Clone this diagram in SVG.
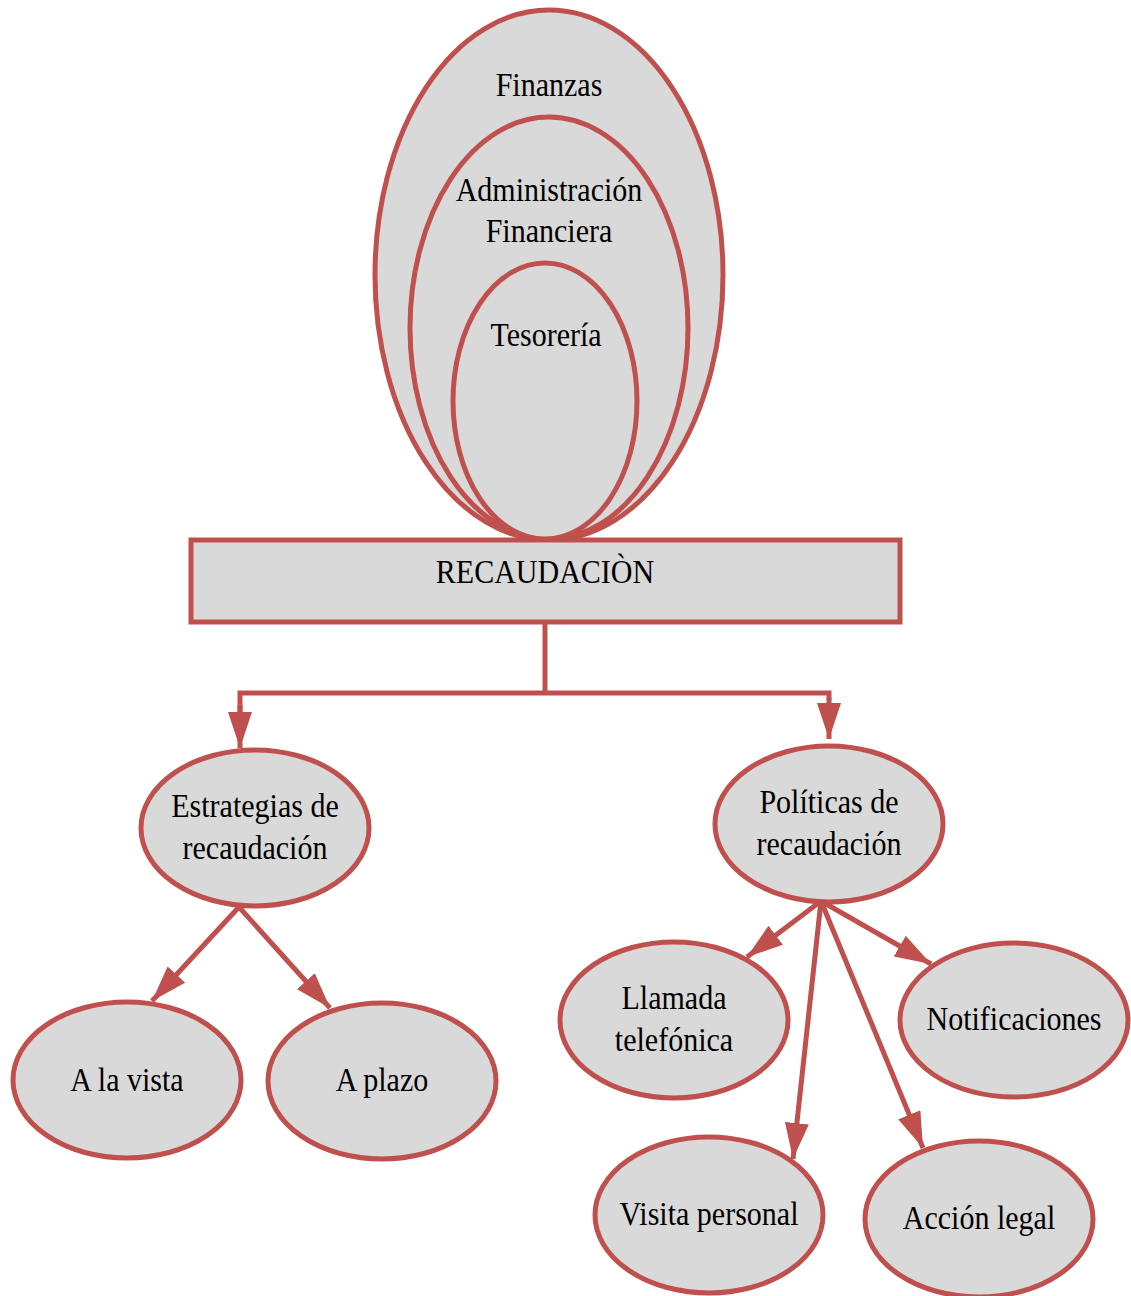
<svg xmlns="http://www.w3.org/2000/svg" width="1131" height="1296" viewBox="0 0 1131 1296">
  <style>
    .shape { fill: #D9D9D9; stroke: #C0504D; stroke-width: 5; }
    .link { fill: none; stroke: #C0504D; stroke-width: 5; }
    .lbl { font-family: "Liberation Serif", "Times New Roman", serif; font-size: 33px; fill: #000; text-anchor: middle; }
  </style>
  <defs>
    <marker id="arrow" markerUnits="userSpaceOnUse" markerWidth="38" markerHeight="26" refX="36" refY="12" orient="auto">
      <path d="M0,0 L36,12 L0,24 Z" fill="#C0504D"/>
    </marker>
  </defs>

  <!-- nested domains -->
  <g id="finanzas">
    <ellipse class="shape" cx="549" cy="275" rx="174" ry="265"/>
    <text class="lbl" transform="translate(549,96) scale(0.91,1)">Finanzas</text>
  </g>
  <g id="administracion">
    <ellipse class="shape" cx="549" cy="328" rx="139" ry="211"/>
    <text class="lbl" transform="translate(549,201) scale(0.91,1)">Administración</text>
    <text class="lbl" transform="translate(549,242) scale(0.91,1)">Financiera</text>
  </g>
  <g id="tesoreria">
    <ellipse class="shape" cx="545" cy="401" rx="92" ry="138"/>
    <text class="lbl" transform="translate(546,346) scale(0.91,1)">Tesorería</text>
  </g>

  <g id="recaudacion">
    <rect class="shape" x="191" y="540" width="709" height="82"/>
    <text class="lbl" transform="translate(545,583) scale(0.91,1)">RECAUDACIÒN</text>
  </g>

  <!-- connectors -->
  <g id="connectors">
    <polyline class="link" points="545,622 545,693"/>
    <polyline class="link" points="240,712 240,693 829,693 829,700"/>
    <line class="link" x1="240" y1="705" x2="240" y2="748" marker-end="url(#arrow)"/>
    <line class="link" x1="829" y1="698" x2="829" y2="739" marker-end="url(#arrow)"/>
    <line class="link" x1="239" y1="907" x2="152" y2="1001" marker-end="url(#arrow)"/>
    <line class="link" x1="239" y1="907" x2="330" y2="1008" marker-end="url(#arrow)"/>
    <line class="link" x1="821" y1="901" x2="747" y2="957" marker-end="url(#arrow)"/>
    <line class="link" x1="821" y1="901" x2="793" y2="1159" marker-end="url(#arrow)"/>
    <line class="link" x1="821" y1="901" x2="931" y2="964" marker-end="url(#arrow)"/>
    <line class="link" x1="821" y1="901" x2="923" y2="1148" marker-end="url(#arrow)"/>
  </g>

  <g id="estrategias">
    <ellipse class="shape" cx="255" cy="828" rx="114" ry="78"/>
    <text class="lbl" transform="translate(255,817) scale(0.91,1)">Estrategias de</text>
    <text class="lbl" transform="translate(255,859) scale(0.91,1)">recaudación</text>
  </g>
  <g id="politicas">
    <ellipse class="shape" cx="829" cy="824" rx="114" ry="78"/>
    <text class="lbl" transform="translate(829,813) scale(0.91,1)">Políticas de</text>
    <text class="lbl" transform="translate(829,855) scale(0.91,1)">recaudación</text>
  </g>
  <g id="a-la-vista">
    <ellipse class="shape" cx="127" cy="1080" rx="114" ry="78"/>
    <text class="lbl" transform="translate(127,1091) scale(0.91,1)">A la vista</text>
  </g>
  <g id="a-plazo">
    <ellipse class="shape" cx="382" cy="1081" rx="114" ry="78"/>
    <text class="lbl" transform="translate(382,1091) scale(0.91,1)">A plazo</text>
  </g>
  <g id="llamada">
    <ellipse class="shape" cx="674" cy="1020" rx="114" ry="78"/>
    <text class="lbl" transform="translate(674,1009) scale(0.91,1)">Llamada</text>
    <text class="lbl" transform="translate(674,1051) scale(0.91,1)">telefónica</text>
  </g>
  <g id="notificaciones">
    <ellipse class="shape" cx="1014" cy="1020" rx="114" ry="77"/>
    <text class="lbl" transform="translate(1014,1030) scale(0.91,1)">Notificaciones</text>
  </g>
  <g id="visita">
    <ellipse class="shape" cx="709" cy="1215" rx="114" ry="78"/>
    <text class="lbl" transform="translate(709,1225) scale(0.91,1)">Visita personal</text>
  </g>
  <g id="accion-legal">
    <ellipse class="shape" cx="979" cy="1219" rx="114" ry="78"/>
    <text class="lbl" transform="translate(979,1229) scale(0.91,1)">Acción legal</text>
  </g>
</svg>
